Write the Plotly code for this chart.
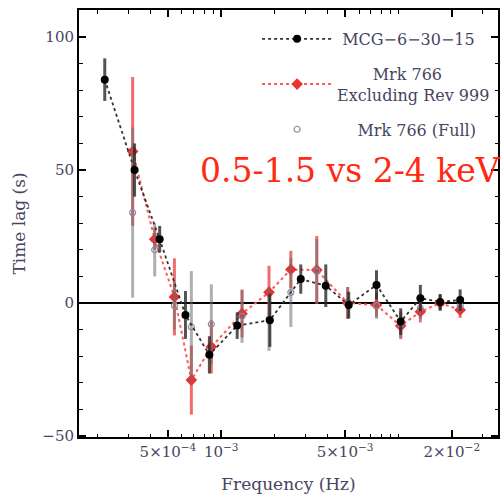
import plotly.graph_objects as go

# ---- data ----
mcg_freq = [2.20e-4, 3.24e-4, 4.49e-4, 6.28e-4, 8.57e-4, 1.23e-3, 1.88e-3, 2.81e-3,
            3.89e-3, 5.24e-3, 7.52e-3, 1.03e-2, 1.33e-2, 1.72e-2, 2.23e-2]
mcg_lag = [84, 50, 24, -4.5, -19.5, -8.5, -6.5, 9, 6.5, -0.8, 6.8, -7, 1.8, 0.4, 1.1]
mcg_err = [8, 10, 5, 9, 7, 5, 10, 5.5, 8, 5, 5.5, 5, 5, 3, 4]

mrk_freq = [3.16e-4, 4.21e-4, 5.44e-4, 6.78e-4, 8.79e-4, 1.31e-3, 1.86e-3, 2.47e-3,
            3.46e-3, 5.17e-3, 7.52e-3, 1.03e-2, 1.33e-2, 1.72e-2, 2.23e-2]
mrk_lag = [57, 24, 2.3, -29, -16.5, -4, 4, 12.6, 12.4, 0, -0.8, -8.6, -3.3, 0, -2.6]
mrk_err = [28, 4, 14.5, 13, 10, 9, 10, 7, 12.8, 6, 4.5, 5, 4, 3, 3]

full_freq = mrk_freq
full_lag = [34, 20, -1, -9, -8, -5, -6, 4, 12, 0, -1, -8, -2, 0, -1]
full_err = [32, 10, 9, 21, 15, 10, 12, 13, 12, 6, 5, 5, 4, 3, 3]

x_major = [5e-4, 1e-3, 5e-3, 2e-2]
x_major_text = ["5×10<sup>−4</sup>", "10<sup>−3</sup>", "5×10<sup>−3</sup>", "2×10<sup>−2</sup>"]
x_minor = [2e-4, 3e-4, 4e-4, 6e-4, 7e-4, 8e-4, 9e-4, 2e-3, 3e-3, 4e-3,
           6e-3, 7e-3, 8e-3, 9e-3, 1e-2, 3e-2]
y_major = [-50, 0, 50, 100]
y_major_text = ["−50", "0", "50", "100"]

NB = "\u00a0"
FONT = "DejaVu Serif"
TXT = "#45455f"

fig = go.Figure()

fig.add_trace(go.Scatter(
    x=mrk_freq, y=mrk_lag, mode="lines+markers",
    name=NB * 7 + "Mrk 766<br>Excluding Rev 999",
    legendgroup="b", legendrank=2,
    line=dict(color="#ff5a5a", width=2, dash="dot"),
    marker=dict(symbol="diamond", size=9, color="#ee3030"),
    error_y=dict(type="data", array=mrk_err, color="rgba(235,60,60,0.75)", thickness=3, width=0),
))
fig.add_trace(go.Scatter(
    x=full_freq, y=full_lag, mode="markers",
    name=NB * 4 + "Mrk 766 (Full)",
    legendgroup="c", legendrank=3,
    marker=dict(symbol="circle-open", size=6, color="#8a8aa0", line=dict(width=1.2)),
    error_y=dict(type="data", array=full_err, color="rgba(110,110,110,0.55)", thickness=3, width=0),
))
fig.add_trace(go.Scatter(
    x=mcg_freq, y=mcg_lag, mode="lines+markers",
    name=NB * 1 + "MCG−6−30−15",
    legendgroup="a", legendrank=1,
    line=dict(color="#333333", width=1.8, dash="dot"),
    marker=dict(symbol="circle", size=8, color="#000000"),
    error_y=dict(type="data", array=mcg_err, color="rgba(40,40,40,0.8)", thickness=3, width=0),
))

fig.add_annotation(
    text="0.5-1.5 vs 2-4 keV", xref="paper", yref="paper",
    x=0.283, y=0.625, xanchor="left", yanchor="middle", showarrow=False,
    font=dict(family=FONT, size=33, color="#ff2a10"),
)

fig.update_layout(
    width=504, height=495,
    margin=dict(l=79, r=4, t=10, b=58),
    paper_bgcolor="white", plot_bgcolor="white",
    font=dict(family=FONT, size=15, color=TXT),
    legend=dict(
        x=0.425, y=0.972, xanchor="left", yanchor="top",
        bgcolor="rgba(0,0,0,0)", borderwidth=0,
        font=dict(family=FONT, size=16, color=TXT),
        traceorder="grouped", tracegroupgap=11, itemwidth=70,
    ),
    showlegend=True,
)

fig.update_xaxes(
    type="log", range=[-3.803, -1.438],
    tickmode="array", tickvals=x_major, ticktext=x_major_text,
    ticks="inside", ticklen=7, tickwidth=1.5, tickcolor="black",
    minor=dict(tickmode="array", tickvals=x_minor, ticks="inside", ticklen=3.5,
               tickwidth=1, tickcolor="black", showgrid=False),
    showline=True, linecolor="black", linewidth=2, mirror="allticks",
    showgrid=False, zeroline=False,
    tickfont=dict(family=FONT, size=15, color=TXT),
    title=dict(text="Frequency (Hz)", font=dict(family=FONT, size=17, color=TXT), standoff=18),
)
fig.update_yaxes(
    range=[-50.4, 110.2],
    tickmode="array", tickvals=y_major, ticktext=y_major_text,
    ticks="inside", ticklen=7, tickwidth=1.5, tickcolor="black",
    minor=dict(dtick=10, tick0=0, ticks="inside", ticklen=3.5, tickwidth=1,
               tickcolor="black", showgrid=False),
    showline=True, linecolor="black", linewidth=2, mirror="allticks",
    showgrid=False, zeroline=True, zerolinecolor="black", zerolinewidth=2,
    tickfont=dict(family=FONT, size=15, color=TXT),
    title=dict(text="Time lag (s)", font=dict(family=FONT, size=17, color=TXT), standoff=12),
)

fig.write_html("out.html")
